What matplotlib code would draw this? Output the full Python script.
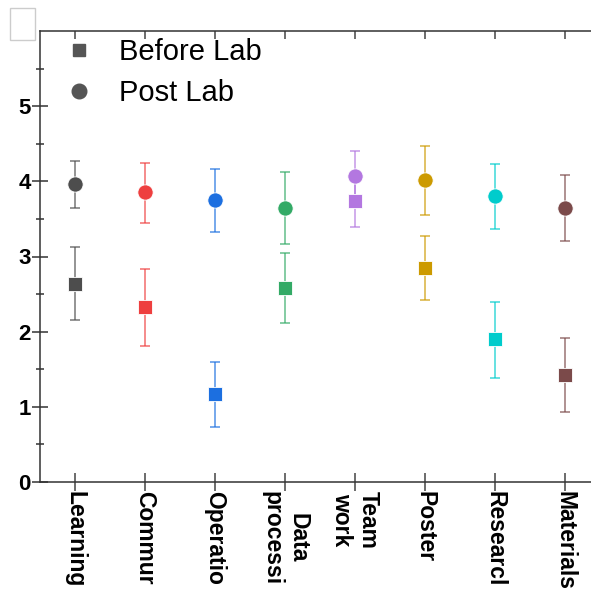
import numpy as np
import matplotlib
matplotlib.use("Agg")
import matplotlib.pyplot as plt
from matplotlib.lines import Line2D
from matplotlib.patches import Rectangle

plt.rcParams['font.family'] = ['Liberation Sans', 'DejaVu Sans']

# data
categories = ["Learning", "Commur", "Operatio", "Data\nprocessi", "Team\nwork",
              "Poster", "Researcl", "Materials"]
colors = ["#4d4d4d", "#ee3f3f", "#1c6fe0", "#33aa66", "#b377e0",
          "#cc9a00", "#00cccc", "#7b4a4a"]

before_mean = [2.63, 2.33, 1.17, 2.58, 3.74, 2.85, 1.90, 1.42]
before_low = [2.15, 1.81, 0.73, 2.12, 3.39, 2.42, 1.39, 0.93]
before_high = [3.12, 2.84, 1.60, 3.05, 4.08, 3.27, 2.40, 1.91]

post_mean = [3.96, 3.86, 3.75, 3.65, 4.07, 4.02, 3.80, 3.64]
post_low = [3.65, 3.45, 3.33, 3.16, 3.74, 3.55, 3.36, 3.21]
post_high = [4.27, 4.25, 4.16, 4.13, 4.40, 4.47, 4.23, 4.08]

fig = plt.figure(figsize=(5.91, 5.90), dpi=100)
ax = fig.add_axes([40 / 591, 108 / 590, 560 / 591, 451 / 590])

x = np.arange(len(categories))
for i in range(len(categories)):
    for mean, lo, hi, mk, ms in [(before_mean, before_low, before_high, "s", 10),
                                 (post_mean, post_low, post_high, "o", 11)]:
        err = [[mean[i] - lo[i]], [hi[i] - mean[i]]]
        ax.errorbar([x[i]], [mean[i]], yerr=err, fmt="none",
                    ecolor=colors[i], elinewidth=1.2,
                    capsize=3.5, capthick=1.2, alpha=0.7)
        ax.plot([x[i]], [mean[i]], marker=mk, ms=ms, color=colors[i],
                mec="white", mew=0.6, ls="none", zorder=3)

ax.set_xlim(-0.5, 7.5)
ax.set_ylim(0, 6)
ax.set_yticks(range(0, 6))
ax.set_yticks(np.arange(0.5, 6, 0.5), minor=True)
ax.set_xticks(x)
ax.set_xticklabels(categories, rotation=270, fontsize=16.5, fontweight="bold",
                   va="top", ha="center")
for t in ax.get_yticklabels():
    t.set_fontsize(16)
    t.set_fontweight("bold")

ax.spines["right"].set_visible(False)
for s in ["left", "top", "bottom"]:
    ax.spines[s].set_color("#333333")
    ax.spines[s].set_linewidth(1.1)

ax.tick_params(axis="y", which="major", direction="inout", length=11.5,
               width=1.1, color="#333333", pad=1)
ax.tick_params(axis="y", which="minor", direction="inout", length=5.5,
               width=1.1, color="#333333")
ax.tick_params(axis="x", which="major", direction="inout", length=13,
               width=1.1, color="#444444", pad=0, top=False)

top = ax.secondary_xaxis("top")
top.set_xticks(x)
top.set_xticklabels([])
top.tick_params(direction="in", length=6, width=1.1, color="#444444")
top.spines["top"].set_visible(False)

handles = [Line2D([], [], marker="s", color="#555555", ls="none", ms=8.5),
           Line2D([], [], marker="o", color="#555555", ls="none", ms=10.5)]
ax.legend(handles, ["Before Lab", "Post Lab"], loc="upper left",
          bbox_to_anchor=(12 / 560, 1 - 1 / 451), frameon=False, fontsize=21,
          handletextpad=0.65, labelspacing=0.45, borderaxespad=0.0,
          borderpad=0.2, handlelength=1.45)

fig.patches.append(Rectangle((10 / 591, 1 - 40 / 590), 25 / 591, 32 / 590,
                             transform=fig.transFigure, fill=False,
                             edgecolor="#cccccc", lw=1))

fig.savefig("out.png", dpi=100)
